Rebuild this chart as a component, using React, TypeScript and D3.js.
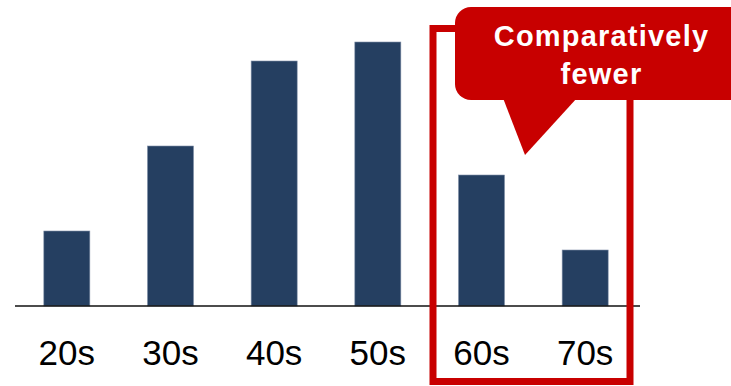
import React from "react";
import * as d3 from "d3";

const categories = ["20s", "30s", "40s", "50s", "60s", "70s"];
const values = [7.5, 16.0, 24.5, 26.4, 13.1, 5.6];
const calloutLines = ["Comparatively", "fewer"];

const W = 731;
const H = 386;
const baseY = 306;

export default function App() {
  const x = d3
    .scaleBand<string>()
    .domain(categories)
    .range([15, 637])
    .paddingInner(0.556)
    .paddingOuter(0.278);
  const y = d3.scaleLinear().domain([0, 30]).range([baseY, baseY - 300]);

  const bw = x.bandwidth();
  const red = "#c80000";

  // speech-bubble pointer
  const pointer = d3.line()([
    [503, 98],
    [577, 98],
    [525, 155],
  ]);

  return (
    <svg
      width={W}
      height={H}
      style={{ position: "absolute", left: 0, top: 0, background: "#fff" }}
    >
      {categories.map((c, i) => (
        <rect
          key={c}
          x={x(c)!}
          y={y(values[i])}
          width={bw}
          height={baseY - y(values[i])}
          fill="#253f61"
          stroke="#8090a8"
          strokeWidth={0.6}
        />
      ))}
      <line x1={15} x2={640} y1={baseY} y2={baseY} stroke="#111" strokeWidth={1.6} />
      {categories.map((c) => (
        <text
          key={c}
          x={x(c)! + bw / 2}
          y={365}
          textAnchor="middle"
          fontFamily="'Liberation Sans Narrow', 'Liberation Sans', Arial, sans-serif"
          fontSize={35}
          fill="#000"
        >
          {c}
        </text>
      ))}
      <rect x={433} y={28.5} width={197} height={353} fill="none" stroke={red} strokeWidth={7} />
      <rect x={455} y={7} width={290} height={93} rx={16} fill={red} />
      <path d={pointer!} fill={red} />
      {calloutLines.map((t, i) => (
        <text
          key={t}
          x={601.5}
          y={46 + i * 37.5}
          textAnchor="middle"
          fontFamily="'Liberation Sans', Arial, sans-serif"
          fontWeight="bold"
          fontSize={29}
          letterSpacing={1.2}
          fill="#fff"
        >
          {t}
        </text>
      ))}
    </svg>
  );
}
